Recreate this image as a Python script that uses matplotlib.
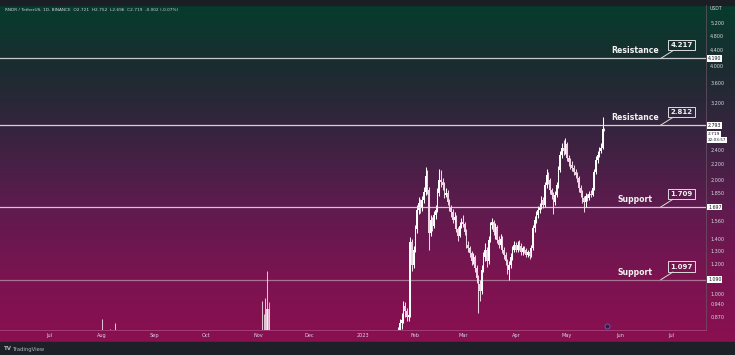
import numpy as np
import pandas as pd
import matplotlib
matplotlib.use("Agg")
import matplotlib.pyplot as plt
import matplotlib.dates as mdates
from matplotlib.colors import LinearSegmentedColormap
from matplotlib.patches import Rectangle

# Velas sueltas de 2022 que asoman por abajo del gráfico
fechas_2022 = ["2022-08-01", "2022-08-06", "2022-08-09", "2022-11-03",
               "2022-11-04", "2022-11-05", "2022-11-06", "2022-11-07"]
apertura_2022 = [0.55, 0.55, 0.56, 0.45, 0.48, 0.50, 0.55, 0.91]
maximo_2022 = [0.86, 0.81, 0.84, 0.96, 0.885, 0.975, 1.15, 0.95]
minimo_2022 = [0.52, 0.53, 0.54, 0.44, 0.46, 0.48, 0.52, 0.58]
cierre_2022 = [0.58, 0.56, 0.57, 0.48, 0.50, 0.55, 0.91, 0.62]

# Velas diarias desde el 20-01-2023 hasta el 23-05-2023
inicio_2023 = "2023-01-20"
apertura_inicial = 0.73
cierre_2023 = [
    0.75, 0.76, 0.78, 0.84, 0.855, 0.93, 0.90, 0.87, 0.88, 1.37, 1.19, 1.31,
    1.48, 1.67, 1.74, 1.69, 1.77, 1.86, 2.05, 1.88, 1.45, 1.57,
    1.51, 1.62, 1.67, 1.85, 2.00, 1.98, 1.94, 1.83, 1.85, 1.75,
    1.69, 1.65, 1.57, 1.60, 1.48, 1.42, 1.51, 1.55,
    1.53, 1.46, 1.35, 1.32, 1.28, 1.22, 1.25, 1.17, 1.10, 1.06,
    1.02, 1.16, 1.25, 1.31, 1.22, 1.39, 1.52, 1.55, 1.46, 1.50,
    1.39, 1.35, 1.40, 1.31, 1.27, 1.22, 1.16, 1.19, 1.25, 1.31, 1.35,
    1.31, 1.35, 1.34, 1.29, 1.32, 1.31, 1.27, 1.29, 1.26, 1.32,
    1.49, 1.57, 1.62, 1.67, 1.70, 1.77, 1.72, 1.94, 2.06, 2.00,
    1.88, 1.83, 1.75, 1.83, 1.94, 2.13, 2.33, 2.43, 2.38, 2.49,
    2.29, 2.23, 2.19, 2.15, 2.10, 2.06, 2.02, 1.90, 1.85, 1.79,
    1.75, 1.81, 1.79, 1.84, 1.83, 1.90, 2.10, 2.26, 2.33, 2.38,
    2.43, 2.721, 2.719]
maximo_2023 = [
    0.77, 0.79, 0.82, 0.86, 0.89, 0.96, 0.95, 0.92, 0.91, 1.41, 1.40, 1.34,
    1.52, 1.72, 1.80, 1.78, 1.81, 1.92, 2.17, 2.12, 1.92, 1.62,
    1.60, 1.66, 1.72, 1.90, 2.14, 2.12, 2.03, 1.97, 1.90, 1.88,
    1.78, 1.72, 1.68, 1.65, 1.62, 1.50, 1.55, 1.59,
    1.62, 1.55, 1.48, 1.38, 1.34, 1.30, 1.28, 1.27, 1.19, 1.12,
    1.09, 1.19, 1.29, 1.36, 1.33, 1.42, 1.55, 1.59, 1.57, 1.54,
    1.52, 1.42, 1.44, 1.42, 1.33, 1.29, 1.24, 1.22, 1.28, 1.34, 1.38,
    1.37, 1.38, 1.39, 1.36, 1.34, 1.34, 1.32, 1.31, 1.30, 1.35,
    1.52, 1.61, 1.66, 1.71, 1.74, 1.81, 1.80, 1.98, 2.14, 2.10,
    2.02, 1.91, 1.86, 1.87, 1.98, 2.18, 2.38, 2.50, 2.55, 2.58,
    2.52, 2.33, 2.28, 2.24, 2.19, 2.14, 2.10, 2.05, 1.94, 1.88,
    1.82, 1.85, 1.84, 1.87, 1.88, 1.93, 2.14, 2.31, 2.38, 2.44,
    2.50, 2.93, 2.752]
minimo_2023 = [
    0.72, 0.74, 0.75, 0.77, 0.81, 0.84, 0.87, 0.85, 0.85, 0.87, 1.15, 1.17,
    1.29, 1.45, 1.63, 1.64, 1.66, 1.74, 1.83, 1.84, 1.31, 1.42,
    1.47, 1.49, 1.58, 1.65, 1.82, 1.92, 1.88, 1.79, 1.80, 1.72,
    1.66, 1.60, 1.54, 1.55, 1.46, 1.38, 1.41, 1.49,
    1.50, 1.43, 1.32, 1.29, 1.25, 1.19, 1.20, 1.14, 1.07, 0.89,
    0.96, 1.00, 1.14, 1.22, 1.18, 1.20, 1.37, 1.48, 1.43, 1.40,
    1.36, 1.32, 1.33, 1.28, 1.24, 1.19, 1.13, 1.09, 1.17, 1.23, 1.29,
    1.29, 1.29, 1.31, 1.27, 1.27, 1.28, 1.25, 1.25, 1.24, 1.25,
    1.31, 1.46, 1.54, 1.59, 1.64, 1.68, 1.69, 1.70, 1.91, 1.95,
    1.84, 1.78, 1.63, 1.72, 1.80, 1.91, 2.10, 2.28, 2.33, 2.34,
    2.24, 2.18, 2.14, 2.11, 2.06, 2.02, 1.98, 1.86, 1.80, 1.74,
    1.65, 1.70, 1.76, 1.77, 1.80, 1.81, 1.88, 2.07, 2.22, 2.30,
    2.35, 2.41, 2.696]

# Niveles dibujados (valor real de la línea y valor escrito en la etiqueta)
niveles = [4.190, 2.793, 1.697, 1.090]
etiquetas_niveles = ["4.217", "2.812", "1.709", "1.097"]
nombres_niveles = ["Resistance", "Resistance", "Support", "Support"]

# Eje de precios (2.800 queda tapado por la etiqueta del nivel)
ticks_precio = [5.2, 4.8, 4.4, 4.0, 3.6, 3.2, 2.4, 2.2, 2.0, 1.85,
                1.56, 1.4, 1.3, 1.2, 1.0, 0.94, 0.87]
meses = ["2022-07-01", "2022-08-01", "2022-09-01", "2022-10-01", "2022-11-01",
         "2022-12-01", "2023-01-01", "2023-02-01", "2023-03-01", "2023-04-01",
         "2023-05-01", "2023-06-01", "2023-07-01"]
nombres_meses = ["Jul", "Aug", "Sep", "Oct", "Nov", "Dec", "2023",
                 "Feb", "Mar", "Apr", "May", "Jun", "Jul"]

encabezado = "RNDR / TetherUS, 1D, BINANCE  O2.721  H2.752  L2.696  C2.719  -0.002 (-0.07%)"

W, H = 735, 355
fig = plt.figure(figsize=(W / 100, H / 100), dpi=100)

# Fondo degradado estilo TradingView
fondo = fig.add_axes([0, 0, 1, 1], zorder=-10)
cmap = LinearSegmentedColormap.from_list(
    "tv", ["#063c2d", "#1d2b31", "#3b2341", "#5e1b4e", "#7a1451", "#8a0f50"])
fondo.imshow(np.linspace(0, 1, 256).reshape(-1, 1), aspect="auto", cmap=cmap,
             extent=[0, 1, 13 / H, 1 - 5 / H])
fondo.add_patch(Rectangle((0, 0), 1, 13 / H, color="#1e2027"))
fondo.add_patch(Rectangle((0, 1 - 5 / H), 1, 5 / H, color="#1b1e25"))
fondo.set_xlim(0, 1)
fondo.set_ylim(0, 1)
fondo.axis("off")

ax = fig.add_axes([0, 25 / H, 706 / W, 325 / H])
ax.set_facecolor("none")


def velas(ax, x, o, h, l, c, alpha=1.0):
    x = np.asarray(x)
    o = np.asarray(o)
    h = np.asarray(h)
    l = np.asarray(l)
    c = np.asarray(c)
    sube = c >= o
    colores = np.where(sube, "#ffffff", "#eed3e5")
    ax.vlines(x, l, h, colors=colores, lw=0.75, alpha=alpha)
    ax.bar(x, np.abs(c - o), bottom=np.minimum(o, c), width=0.9,
           color=colores, alpha=alpha, linewidth=0)


x22 = mdates.date2num(pd.to_datetime(fechas_2022))
velas(ax, x22, apertura_2022, maximo_2022, minimo_2022, cierre_2022, alpha=0.75)

x23 = mdates.date2num(pd.date_range(inicio_2023, periods=len(cierre_2023)))
apertura_2023 = [apertura_inicial] + cierre_2023[:-1]
velas(ax, x23, apertura_2023, maximo_2023, minimo_2023, cierre_2023)

ax.set_yscale("log")
ax.set_ylim(0.803, 5.80)
ax.set_xlim(mdates.date2num(pd.Timestamp("2022-06-02 06:00")),
            mdates.date2num(pd.Timestamp("2023-07-21 14:00")))

# Líneas de soporte / resistencia
alfas = [0.85, 0.9, 0.85, 0.45]
x_texto = mdates.date2num(pd.Timestamp("2023-06-10"))
x_guia = mdates.date2num(pd.Timestamp("2023-06-25"))
for nivel, valor, nombre, a in zip(niveles, etiquetas_niveles, nombres_niveles, alfas):
    ax.axhline(nivel, color="#e6e6e6", lw=0.9, alpha=a)
    ax.annotate(nombre, xy=(x_texto, nivel), xytext=(0, 2.2),
                textcoords="offset points", ha="center", va="bottom",
                fontsize=5.6, fontweight="bold", color="#f2f2f2")
    ax.annotate(valor, xy=(x_guia, nivel), xytext=(15, 9.5),
                textcoords="offset points", ha="center", va="center",
                fontsize=5, fontweight="bold", color="#f2f2f2",
                bbox=dict(boxstyle="square,pad=0.3", fc="none", ec="#dcdcdc", lw=0.7),
                arrowprops=dict(arrowstyle="-", color="#dcdcdc", lw=0.7,
                                shrinkA=0, shrinkB=0))
    # etiqueta en el eje de precios
    ax.text(1.0 + 2 / 706, nivel, f"{nivel:.3f}", transform=ax.get_yaxis_transform(),
            ha="left", va="center", fontsize=3.4, color="#131722",
            bbox=dict(boxstyle="square,pad=0.2", fc="white", ec="none"))

# precio actual y cuenta atrás
precio_actual = cierre_2023[-1]
ax.annotate(f"{precio_actual:.3f}", xy=(1.0, precio_actual), xycoords=ax.get_yaxis_transform(),
            xytext=(1.5, -3), textcoords="offset points", ha="left", va="center",
            fontsize=3.2, color="#131722",
            bbox=dict(boxstyle="square,pad=0.2", fc="white", ec="none"))
ax.annotate("22:03:57", xy=(1.0, precio_actual), xycoords=ax.get_yaxis_transform(),
            xytext=(1.5, -7.5), textcoords="offset points", ha="left", va="center",
            fontsize=3.0, color="#131722",
            bbox=dict(boxstyle="square,pad=0.2", fc="white", ec="none"))

ax.yaxis.tick_right()
ax.yaxis.set_minor_locator(plt.NullLocator())
ax.set_yticks(ticks_precio, [f"{t:.3f}" for t in ticks_precio])
ax.tick_params(axis="y", length=0, pad=3, labelsize=3.5, colors="#d6d6dc")

ax.set_xticks(mdates.date2num(pd.to_datetime(meses)), nombres_meses)
ax.tick_params(axis="x", length=0, pad=2.5, labelsize=3.6, colors="#d6d6dc")

for lado in ["top", "left"]:
    ax.spines[lado].set_visible(False)
ax.spines["bottom"].set_color("#a9447d")
ax.spines["bottom"].set_linewidth(0.6)
ax.spines["right"].set_color("#6b5566")
ax.spines["right"].set_linewidth(0.5)

# icono de evento
ax.plot(607 / 706, 0.013, "o", transform=ax.transAxes, ms=3.6,
        mfc="#2c1d4e", mec="#7d6bb0", mew=0.5, clip_on=False)

fig.text(5 / W, 1 - 10 / H, encabezado, fontsize=3.1, color="#cfd2d8", va="center")
fig.text(716 / W, 1 - 9 / H, "USDT", fontsize=3.3, color="#d6d6dc", ha="center", va="center")
fig.text(4 / W, 1 - 349 / H, "TV", fontsize=4, fontweight="bold", color="#b2b5be", va="center")
fig.text(13 / W, 1 - 349 / H, "TradingView", fontsize=3.8, color="#b2b5be", va="center")

fig.savefig("out.png", dpi=100)
